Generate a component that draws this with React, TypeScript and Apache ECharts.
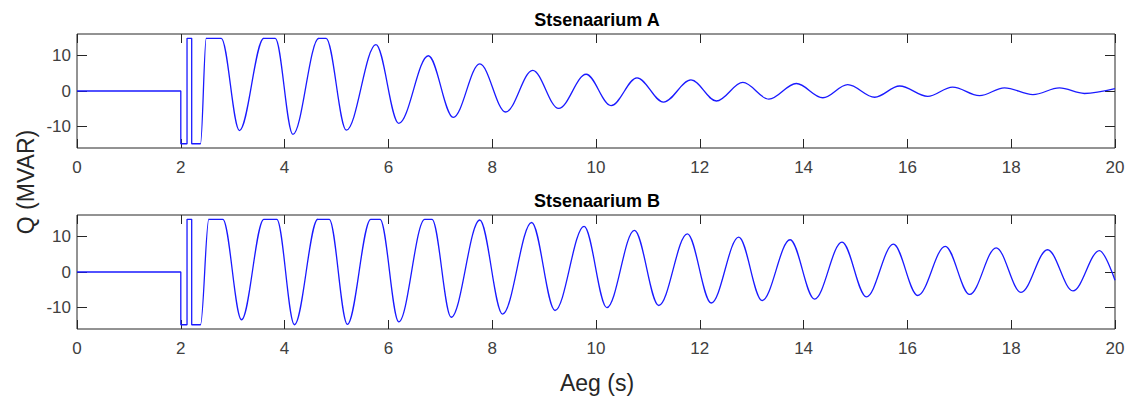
import React, { useEffect, useRef } from "react";
import * as echarts from "echarts";

// Stsenaarium A: times (s) and reactive power Q (MVAR) (extremes and corners)
const timesA = [
  0, 2.0, 2.0, 2.12, 2.12, 2.21, 2.21, 2.38, 2.49, 2.78, 3.13, 3.6, 3.82, 4.16, 4.66, 4.8, 5.19, 5.76,
  6.2, 6.77, 7.25, 7.76, 8.26, 8.78, 9.28, 9.81, 10.29, 10.79, 11.3, 11.83, 12.32, 12.83, 13.33, 13.86,
  14.37, 14.85, 15.37, 15.85, 16.39, 16.87, 17.39, 17.87, 18.42, 18.93, 19.41, 20,
];
const valuesA = [
  0, 0, -14.8, -14.8, 14.8, 14.8, -14.8, -14.8, 14.8, 14.8, -11.1, 14.8, 14.8, -12.2, 14.8, 14.8, -11.0, 13.0,
  -9.1, 9.9, -7.4, 7.6, -5.9, 5.8, -4.9, 4.7, -4.1, 3.7, -3.1, 3.1, -2.8, 2.4, -2.3, 2.1,
  -1.9, 1.8, -1.75, 1.4, -1.5, 1.1, -1.3, 0.9, -1.0, 0.85, -0.7, 0.65,
];

// Stsenaarium B
const timesB = [
  0, 2.0, 2.0, 2.12, 2.12, 2.21, 2.21, 2.38, 2.54, 2.81, 3.17, 3.6, 3.85, 4.19, 4.64, 4.86, 5.21, 5.66, 5.84,
  6.2, 6.7, 6.84, 7.21, 7.76, 8.2, 8.76, 9.21, 9.77, 10.21, 10.74, 11.21, 11.76, 12.22, 12.75, 13.2, 13.74,
  14.21, 14.74, 15.21, 15.73, 16.2, 16.73, 17.2, 17.71, 18.19, 18.7, 19.19, 19.7, 20,
];
const valuesB = [
  0, 0, -14.8, -14.8, 14.8, 14.8, -14.8, -14.8, 14.8, 14.8, -13.4, 14.8, 14.8, -14.8, 14.8, 14.8, -14.7, 14.8, 14.8,
  -14.0, 14.8, 14.8, -12.7, 14.6, -11.8, 13.9, -10.8, 12.8, -10.0, 11.7, -9.4, 10.7, -8.7, 9.8, -8.0, 9.05,
  -7.6, 8.4, -7.0, 7.8, -6.6, 7.2, -6.3, 6.8, -5.7, 6.25, -5.3, 6.0, -2.3,
];

const titles = ["Stsenaarium A", "Stsenaarium B"];
const xTicks = [0, 2, 4, 6, 8, 10, 12, 14, 16, 18, 20];
const yTicks = [-10, 0, 10];
const xLabel = "Aeg (s)";
const yLabel = "Q (MVAR)";

const FONT = "'Liberation Sans', Arial, Helvetica, sans-serif";
const AX = "#262626";

export default function App() {
  const ref = useRef<HTMLDivElement>(null);
  useEffect(() => {
    if (!ref.current) return;
    const chart = echarts.init(ref.current, undefined, { renderer: "svg" });
    const grids = [
      { left: 77, top: 34, width: 1038, height: 114 },
      { left: 77, top: 215, width: 1038, height: 114 },
    ];
    const xAxes: any[] = [];
    const yAxes: any[] = [];
    grids.forEach((_, gi) => {
      ["bottom", "top"].forEach((pos) => {
        xAxes.push({
          type: "value",
          gridIndex: gi,
          position: pos,
          min: xTicks[0],
          max: xTicks[xTicks.length - 1],
          interval: 2,
          axisLine: { show: false, onZero: false },
          splitLine: { show: false },
          axisTick: { show: true, inside: true, length: 9, lineStyle: { color: AX, width: 1 } },
          axisLabel: {
            show: pos === "bottom",
            fontSize: 17,
            color: "#404040",
            fontFamily: FONT,
            margin: 11,
          },
        });
      });
      ["left", "right"].forEach((pos) => {
        yAxes.push({
          type: "value",
          gridIndex: gi,
          position: pos,
          min: -16,
          max: 16,
          axisLine: { show: false, onZero: false },
          splitLine: { show: false },
          axisTick: {
            show: true,
            inside: true,
            length: 10,
            customValues: yTicks,
            lineStyle: { color: AX, width: 1 },
          },
          axisLabel: {
            show: pos === "left",
            customValues: yTicks,
            fontSize: 17,
            color: "#404040",
            fontFamily: FONT,
            margin: 6,
          },
        });
      });
    });
    const zip = (t: number[], v: number[]) => t.map((x, i) => [x, v[i]]);
    const lineSeries = (data: number[][], gi: number) => ({
      type: "line",
      xAxisIndex: gi * 2,
      yAxisIndex: gi * 2,
      data,
      showSymbol: false,
      smooth: 0.35,
      smoothMonotone: "x",
      lineStyle: { color: "#1a1aff", width: 1.3 },
    });
    chart.setOption({
      animation: false,
      backgroundColor: "#ffffff",
      grid: grids.map((g) => ({ ...g, show: true, borderColor: AX, borderWidth: 1, backgroundColor: "transparent" })),
      xAxis: xAxes,
      yAxis: yAxes,
      series: [lineSeries(zip(timesA, valuesA), 0), lineSeries(zip(timesB, valuesB), 1)],
      graphic: [
        {
          type: "text",
          x: 597,
          y: 20,
          style: { text: titles[0], fontSize: 18, fontWeight: "bold", fill: "#000", fontFamily: FONT, align: "center", verticalAlign: "middle" },
        },
        {
          type: "text",
          x: 597,
          y: 201,
          style: { text: titles[1], fontSize: 18, fontWeight: "bold", fill: "#000", fontFamily: FONT, align: "center", verticalAlign: "middle" },
        },
        {
          type: "text",
          x: 597,
          y: 383,
          style: { text: xLabel, fontSize: 23, fill: AX, fontFamily: FONT, align: "center", verticalAlign: "middle" },
        },
        {
          type: "text",
          x: 26,
          y: 182,
          rotation: Math.PI / 2,
          style: { text: yLabel, fontSize: 23, fill: AX, fontFamily: FONT, align: "center", verticalAlign: "middle" },
        },
      ],
    });
    return () => chart.dispose();
  }, []);
  return (
    <div
      ref={ref}
      style={{ position: "fixed", left: 0, top: 0, width: 1133, height: 403, background: "#fff" }}
    />
  );
}
